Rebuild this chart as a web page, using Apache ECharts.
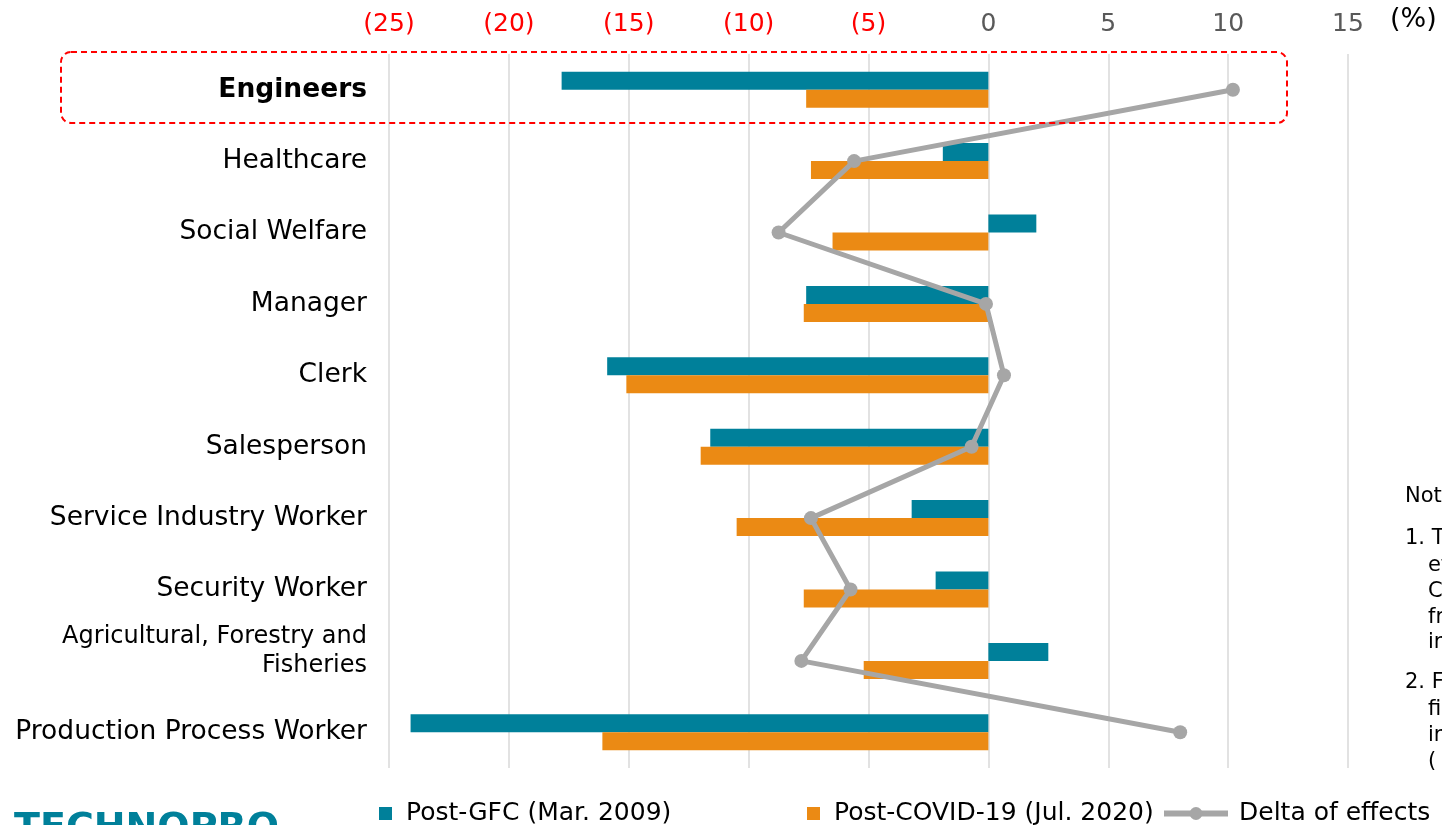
<!DOCTYPE html>
<html>
<head>
<meta charset="utf-8">
<script src="https://cdn.jsdelivr.net/npm/echarts@6/dist/echarts.min.js"></script>
<style>
  html, body { margin: 0; padding: 0; background: #fff; }
  #chart { width: 1442px; height: 825px; }
</style>
</head>
<body>
<div id="chart"></div>
<script>
const categories = [
  'Engineers',
  'Healthcare',
  'Social Welfare',
  'Manager',
  'Clerk',
  'Salesperson',
  'Service Industry Worker',
  'Security Worker',
  'Agricultural, Forestry and\nFisheries',
  'Production Process Worker'
]
const postGfc = [-17.8, -1.9, 2.0, -7.6, -15.9, -11.6, -3.2, -2.2, 2.5, -24.1]
const postCovid = [-7.6, -7.4, -6.5, -7.7, -15.1, -12.0, -10.5, -7.7, -5.2, -16.1]
const deltaEffects = [10.2, -5.6, -8.75, -0.1, 0.65, -0.7, -7.4, -5.75, -7.8, 8.0]
const seriesNames = ['Post-GFC (Mar. 2009)', 'Post-COVID-19 (Jul. 2020)', 'Delta of effects']

const TEAL = '#00809A'
const ORANGE = '#EB8A14'
const GREY = '#A6A6A6'
const FONT = 'DejaVu Sans'

const chart = echarts.init(document.getElementById('chart'))

const legendText = { fontSize: 25, color: '#000', fontFamily: FONT }

chart.setOption({
  animation: false,
  textStyle: { fontFamily: FONT },
  grid: { left: 389, right: 94, top: 54, bottom: 57 },
  xAxis: {
    type: 'value',
    position: 'top',
    min: -25,
    max: 15,
    interval: 5,
    axisLine: { show: false },
    axisTick: { show: false },
    splitLine: { lineStyle: { color: '#D9D9D9', width: 1.5 } },
    axisLabel: {
      margin: 17,
      fontSize: 25,
      formatter: v => v < 0 ? '{neg|(' + Math.abs(v) + ')}' : '{pos|' + v + '}',
      rich: {
        neg: { color: '#FF0000', fontSize: 25, fontFamily: FONT },
        pos: { color: '#595959', fontSize: 25, fontFamily: FONT }
      }
    }
  },
  yAxis: {
    type: 'category',
    inverse: true,
    data: categories,
    axisLine: { show: false },
    axisTick: { show: false },
    axisLabel: {
      margin: 22,
      color: '#000',
      fontSize: 26.5,
      formatter: (v, i) => {
        if (i === 0) return '{b|' + v + '}'
        // two-line label sits a little above the row centre, as in the original
        if (v.indexOf('\n') >= 0) return v.split('\n').map(s => '{s|' + s + '}').join('\n') + '\n{e| }'
        return '{n|' + v + '}'
      },
      rich: {
        b: { fontWeight: 'bold', fontSize: 26.5, color: '#000', fontFamily: FONT },
        n: { fontSize: 26.5, color: '#000', fontFamily: FONT },
        s: { fontSize: 24, color: '#000', lineHeight: 29, fontFamily: FONT },
        e: { fontSize: 1, lineHeight: 20 }
      }
    }
  },
  legend: [
    {
      data: [seriesNames[0]], left: 374, top: 796, icon: 'rect',
      itemWidth: 13, itemHeight: 13,
      textStyle: Object.assign({ padding: [0, 0, 0, 9] }, legendText)
    },
    {
      data: [seriesNames[1]], left: 802, top: 796, icon: 'rect',
      itemWidth: 13, itemHeight: 13,
      textStyle: Object.assign({ padding: [0, 0, 0, 9] }, legendText)
    },
    {
      data: [seriesNames[2]], left: 1156, top: 796,
      itemWidth: 64, itemHeight: 16,
      lineStyle: { width: 6, color: GREY },
      itemStyle: { color: GREY },
      textStyle: Object.assign({ padding: [0, 0, 0, 6] }, legendText)
    }
  ],
  graphic: [
    {
      type: 'rect',
      shape: { x: 61, y: 52, width: 1226, height: 71, r: 10 },
      style: { fill: 'none', stroke: '#FF0000', lineWidth: 2, lineDash: [6, 4] },
      z: 10
    },
    {
      type: 'text', left: 1390, top: 6,
      style: { text: '(%)', fontSize: 27, fill: '#000', fontFamily: FONT }
    },
    {
      type: 'text', left: 14, top: 810,
      style: { text: 'TECHNOPRO', fontSize: 38, fontWeight: 'bold', fill: TEAL, fontFamily: FONT }
    },
    {
      type: 'text', left: 1405, top: 486,
      style: { text: 'Notes:', fontSize: 21, fill: '#000', fontFamily: FONT }
    },
    {
      type: 'text', left: 1405, top: 528,
      style: { text: '1. The', fontSize: 21, fill: '#000', fontFamily: FONT }
    },
    {
      type: 'text', left: 1428, top: 553,
      style: { text: 'effects\nCOVID-19\nfrom\nin', fontSize: 21, lineHeight: 25.7, fill: '#000', fontFamily: FONT }
    },
    {
      type: 'text', left: 1405, top: 672,
      style: { text: '2. From', fontSize: 21, fill: '#000', fontFamily: FONT }
    },
    {
      type: 'text', left: 1428, top: 697,
      style: { text: 'figures\nin\n(', fontSize: 21, lineHeight: 25.7, fill: '#000', fontFamily: FONT }
    }
  ],
  series: [
    {
      name: seriesNames[0],
      type: 'bar',
      data: postGfc,
      barWidth: 18,
      barGap: '0%',
      itemStyle: { color: TEAL }
    },
    {
      name: seriesNames[1],
      type: 'bar',
      data: postCovid,
      barWidth: 18,
      barGap: '0%',
      itemStyle: { color: ORANGE }
    },
    {
      name: seriesNames[2],
      type: 'line',
      data: deltaEffects,
      symbol: 'circle',
      symbolSize: 14,
      lineStyle: { color: GREY, width: 5 },
      itemStyle: { color: GREY },
      z: 5
    }
  ]
})
</script>
</body>
</html>
